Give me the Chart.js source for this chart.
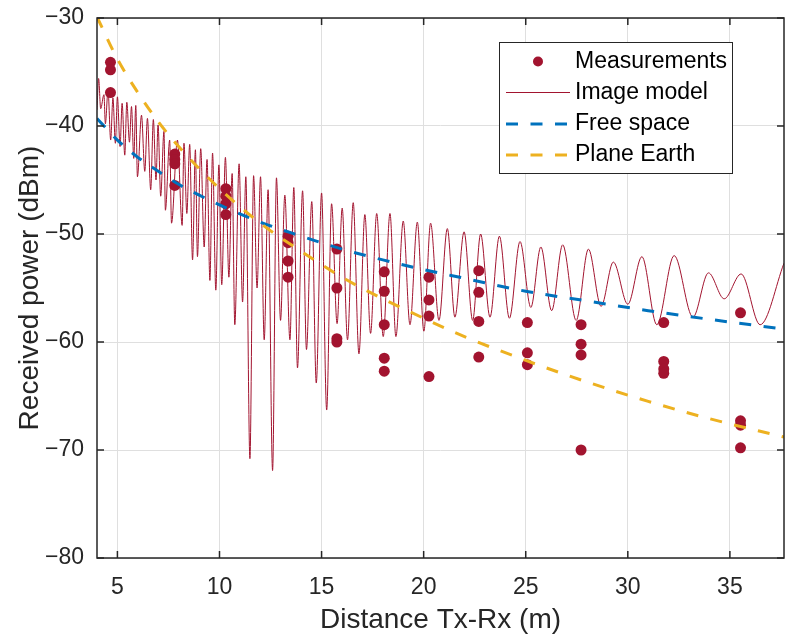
<!DOCTYPE html>
<html>
<head>
<meta charset="utf-8">
<title>Received power vs distance</title>
<script src="https://cdn.jsdelivr.net/npm/chart.js@4.4.1/dist/chart.umd.min.js"></script>
<style>
  html, body { margin: 0; padding: 0; background: #fff; }
  #wrap { width: 785px; height: 638px; }
</style>
</head>
<body>
<div id="wrap"><canvas id="chart" width="785" height="638"></canvas></div>
<script>
// axis ticks
const xTicks = [5, 10, 15, 20, 25, 30, 35];
const yTicks = [-80, -70, -60, -50, -40, -30];

// measured points: distance (m) and received power (dBm)
const measDist = [
  4.66, 4.66, 4.66,
  7.81, 7.81, 7.81, 7.81,
  10.31, 10.31, 10.31, 10.31,
  13.36, 13.36, 13.36, 13.36,
  15.75, 15.75, 15.75, 15.75,
  18.07, 18.07, 18.07, 18.07, 18.07,
  20.26, 20.26, 20.26, 20.26,
  22.70, 22.70, 22.70, 22.70,
  25.08, 25.08, 25.08,
  27.71, 27.71, 27.71, 27.71,
  31.76, 31.76, 31.76, 31.76,
  35.52, 35.52, 35.52, 35.52
];
const measPower = [
  -34.1, -34.8, -36.9,
  -42.6, -43.1, -43.5, -45.5,
  -45.8, -46.5, -47.2, -48.2,
  -50.2, -50.8, -52.5, -54.0,
  -51.4, -55.0, -59.7, -60.0,
  -53.5, -55.3, -58.4, -61.5, -62.7,
  -54.0, -56.1, -57.6, -63.2,
  -53.4, -55.4, -58.1, -61.4,
  -58.2, -61.0, -62.1,
  -58.4, -60.2, -61.2, -70.0,
  -58.2, -61.8, -62.5, -62.9,
  -57.3, -67.3, -67.7, -69.8
];

// image (two-ray) model, [distance, power] at each crest and null
const imageModel = [
  [4.00, -38.5], [4.08, -35.6], [4.18, -38.4], [4.34, -37.1], [4.41, -39.8],
  [4.54, -36.7], [4.67, -41.3], [4.78, -37.4], [4.90, -41.6], [5.00, -37.3],
  [5.13, -41.9], [5.23, -37.9], [5.36, -42.7], [5.46, -37.8], [5.59, -41.5],
  [5.69, -38.2], [5.80, -43.0], [5.90, -38.1], [5.98, -44.7], [6.18, -39.0],
  [6.34, -44.2], [6.47, -39.3], [6.63, -45.9], [6.76, -39.4], [6.89, -45.0],
  [6.99, -39.9], [7.12, -46.5], [7.28, -40.5], [7.35, -47.8], [7.56, -41.3],
  [7.65, -49.0], [7.94, -41.3], [8.17, -49.2], [8.26, -41.6], [8.40, -48.1],
  [8.54, -41.7], [8.68, -52.4], [8.82, -42.2], [8.92, -52.1], [9.08, -42.1],
  [9.25, -51.2], [9.39, -43.1], [9.53, -54.3], [9.66, -42.5], [9.82, -55.2],
  [9.97, -43.6], [10.11, -54.7], [10.29, -42.9], [10.46, -54.0], [10.62, -44.4],
  [10.75, -58.4], [10.96, -43.5], [11.13, -56.3], [11.29, -44.7], [11.49, -70.8],
  [11.67, -44.6], [11.84, -55.0], [12.01, -44.7], [12.19, -59.8], [12.38, -45.9],
  [12.60, -71.9], [12.79, -44.8], [12.99, -58.0], [13.20, -46.4], [13.45, -59.8],
  [13.64, -45.7], [13.82, -62.4], [14.07, -46.0], [14.26, -60.7], [14.52, -47.0],
  [14.74, -63.8], [15.00, -46.2], [15.25, -66.3], [15.49, -47.2], [15.76, -58.3],
  [16.01, -47.6], [16.27, -59.8], [16.55, -47.1], [16.83, -61.1], [17.12, -48.2],
  [17.40, -59.2], [17.70, -48.1], [18.02, -59.5], [18.35, -48.1], [18.64, -59.5],
  [19.00, -48.8], [19.33, -58.4], [19.69, -48.9], [20.01, -59.0], [20.34, -49.0],
  [20.75, -58.0], [21.16, -49.5], [21.53, -57.7], [21.98, -49.8], [22.40, -58.0],
  [22.79, -50.0], [23.25, -57.7], [23.71, -50.2], [24.20, -57.8], [24.72, -50.7],
  [25.25, -56.8], [25.74, -51.2], [26.27, -57.1], [26.81, -51.0], [27.47, -58.0],
  [28.07, -51.4], [28.69, -56.7], [29.29, -52.6], [30.00, -56.5], [30.69, -52.1],
  [31.42, -58.4], [32.27, -52.0], [33.19, -57.7], [33.95, -53.6], [34.72, -56.0],
  [35.55, -53.7], [36.48, -58.4], [37.65, -52.7]
];

// analytic reference curves, sampled along distance
const refDist = [4, 5, 6, 7, 8, 10, 12, 14, 16, 18, 20, 22, 25, 28, 31, 34, 37.65];
const freeSpace = [-39.3, -41.3, -42.9, -44.2, -45.4, -47.3, -48.9, -50.2, -51.4, -52.4, -53.3, -54.1, -55.3, -56.2, -57.1, -57.9, -58.8];
const planeEarth = [-29.9, -33.8, -36.9, -39.6, -41.9, -45.8, -49.0, -51.6, -54.0, -56.0, -57.8, -59.5, -61.7, -63.7, -65.5, -67.1, -68.8];

const xMin = 4, xMax = 37.65;
const yMin = -80, yMax = -30;

var RED = '#A2142F', BLUE = '#0072BD', GOLD = '#EDB120', INK = '#262626';
var FONT = '"Liberation Sans", Arial, Helvetica, sans-serif';
var DASH = [12, 12.5];

function pairs(xs, ys) {
    return xs.map(function (v, i) { return { x: v, y: ys[i] }; });
}

// box around the axes with inward tick marks on all four sides
var axesBox = {
    id: 'axesBox',
    afterDatasetsDraw: function (chart) {
        var ctx = chart.ctx, a = chart.chartArea, sx = chart.scales.x, sy = chart.scales.y;
        var len = 7;
        ctx.save();
        ctx.strokeStyle = INK;
        ctx.lineWidth = 1.5;
        ctx.strokeRect(a.left, a.top, a.right - a.left, a.bottom - a.top);
        ctx.beginPath();
        xTicks.forEach(function (v) {
            var px = sx.getPixelForValue(v);
            ctx.moveTo(px, a.bottom); ctx.lineTo(px, a.bottom - len);
            ctx.moveTo(px, a.top); ctx.lineTo(px, a.top + len);
        });
        yTicks.forEach(function (v) {
            var py = sy.getPixelForValue(v);
            ctx.moveTo(a.left, py); ctx.lineTo(a.left + len, py);
            ctx.moveTo(a.right, py); ctx.lineTo(a.right - len, py);
        });
        ctx.stroke();
        ctx.restore();
    }
};

// boxed legend in the upper right corner
var legendBox = {
    id: 'legendBox',
    afterDraw: function (chart) {
        var ctx = chart.ctx;
        var left = 499, top = 42, w = 233, h = 131;
        var rowY = [61.5, 92.5, 124, 155];
        var lineX0 = 506, lineX1 = 570, textX = 575;
        ctx.save();
        ctx.fillStyle = '#fff';
        ctx.fillRect(left, top, w, h);
        ctx.strokeStyle = INK;
        ctx.lineWidth = 1;
        ctx.strokeRect(left + 0.5, top + 0.5, w, h);

        chart.data.datasets.forEach(function (ds, i) {
            var y = rowY[i];
            if (ds.showLine) {
                ctx.beginPath();
                ctx.strokeStyle = ds.borderColor;
                ctx.lineWidth = ds.borderWidth;
                ctx.setLineDash(ds.borderDash || []);
                ctx.moveTo(lineX0, y);
                ctx.lineTo(lineX1, y);
                ctx.stroke();
                ctx.setLineDash([]);
            } else {
                ctx.beginPath();
                ctx.fillStyle = ds.backgroundColor;
                ctx.arc((lineX0 + lineX1) / 2, y, 5, 0, Math.PI * 2);
                ctx.fill();
            }
            ctx.fillStyle = '#000';
            ctx.font = '23px ' + FONT;
            ctx.textAlign = 'left';
            ctx.textBaseline = 'middle';
            ctx.fillText(ds.label, textX, y);
        });
        ctx.restore();
    }
};

new Chart(document.getElementById('chart'), {
    type: 'scatter',
    data: {
        datasets: [
            {
                label: 'Measurements',
                data: pairs(measDist, measPower),
                backgroundColor: RED,
                borderColor: RED,
                pointRadius: 5.5,
                pointBorderWidth: 0,
                showLine: false,
                order: 2
            },
            {
                label: 'Image model',
                data: imageModel.map(function (p) { return { x: p[0], y: p[1] }; }),
                borderColor: RED,
                borderWidth: 1,
                pointRadius: 0,
                showLine: true,
                cubicInterpolationMode: 'monotone',
                clip: 0,
                order: 3
            },
            {
                label: 'Free space',
                data: pairs(refDist, freeSpace),
                borderColor: BLUE,
                borderWidth: 3,
                borderDash: DASH,
                pointRadius: 0,
                showLine: true,
                cubicInterpolationMode: 'monotone',
                clip: 0,
                order: 1
            },
            {
                label: 'Plane Earth',
                data: pairs(refDist, planeEarth),
                borderColor: GOLD,
                borderWidth: 3,
                borderDash: DASH,
                pointRadius: 0,
                showLine: true,
                cubicInterpolationMode: 'monotone',
                clip: 0,
                order: 0
            }
        ]
    },
    options: {
        responsive: false,
        animation: false,
        devicePixelRatio: 1,
        layout: {
            autoPadding: false,
            padding: { top: 18, right: 1, left: 0, bottom: 0 }
        },
        plugins: {
            legend: { display: false },
            tooltip: { enabled: false }
        },
        scales: {
            x: {
                type: 'linear',
                min: xMin,
                max: xMax,
                afterBuildTicks: function (s) { s.ticks = xTicks.map(function (v) { return { value: v }; }); },
                afterFit: function (s) {
                    s.height = 80;
                    s.paddingLeft = 0;
                    s.paddingRight = 0;
                },
                grid: { color: '#dfdfdf', lineWidth: 1, drawTicks: false },
                border: { display: false },
                ticks: {
                    padding: 16,
                    color: INK,
                    font: { family: FONT, size: 23 },
                    maxRotation: 0,
                    autoSkip: false
                },
                title: {
                    display: true,
                    text: 'Distance Tx-Rx (m)',
                    color: INK,
                    font: { family: FONT, size: 28 },
                    padding: { top: 0, bottom: 1 }
                }
            },
            y: {
                type: 'linear',
                min: yMin,
                max: yMax,
                afterBuildTicks: function (s) { s.ticks = yTicks.map(function (v) { return { value: v }; }); },
                afterFit: function (s) {
                    s.width = 97;
                    s.paddingTop = 0;
                    s.paddingBottom = 0;
                },
                grid: { color: '#dfdfdf', lineWidth: 1, drawTicks: false },
                border: { display: false },
                ticks: {
                    padding: 13,
                    color: INK,
                    font: { family: FONT, size: 23 },
                    autoSkip: false,
                    callback: function (v) { return String(v).replace('-', '\u2212'); }
                },
                title: {
                    display: true,
                    text: 'Received power (dBm)',
                    color: INK,
                    font: { family: FONT, size: 28 },
                    padding: { top: 13, bottom: 0 }
                }
            }
        }
    },
    plugins: [axesBox, legendBox]
});
</script>
</body>
</html>
